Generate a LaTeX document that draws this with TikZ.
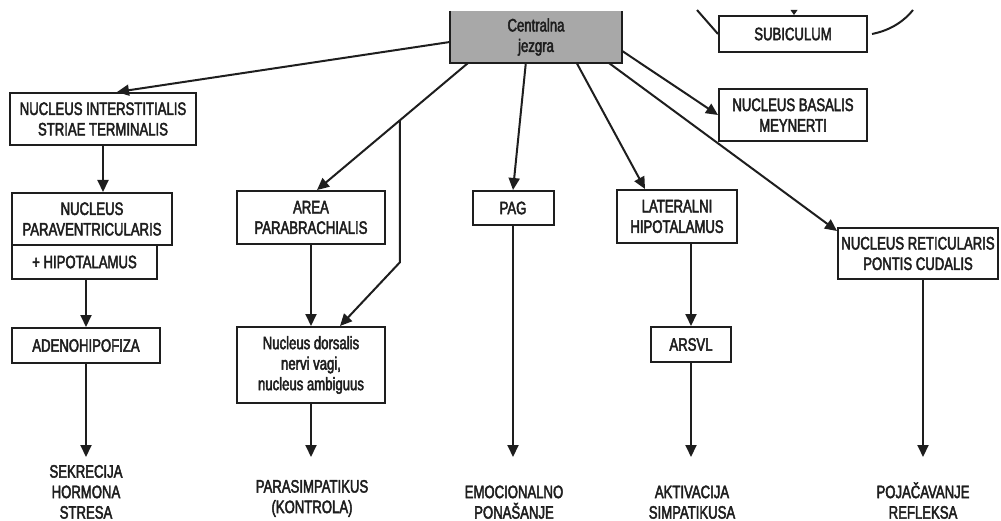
\documentclass[tikz,border=0pt]{standalone}
\usepackage{fontspec}
\setmainfont{Liberation Sans}[FakeStretch=0.73, FakeBold=2.5]
\usetikzlibrary{arrows.meta,calc}
\definecolor{ink}{RGB}{30,30,30}
\definecolor{coregray}{RGB}{168,168,168}

\begin{document}
\begin{tikzpicture}[x=1pt,y=-1pt,
  every node/.style={font=\fontsize{18}{20.5}\selectfont, align=center,
                     inner sep=0pt, text=ink},
  box/.style={draw=ink, line width=2pt, fill=white},
  link/.style={draw=ink, line width=2pt, -{Triangle[length=12pt,width=11pt]}},
  plain/.style={draw=ink, line width=2pt},
  outcome/.style={anchor=south}]
\useasboundingbox (0,0) rectangle (1001,521);

% central nucleus (top edge lies outside the frame)
\node[fill=coregray, minimum width=172, minimum height=52] (core) at (536,37) {Centralna\\jezgra};
\draw[plain] (core.north west) -- (core.south west) -- (core.south east) -- (core.north east);

% boxes
\node[box, minimum width=148, minimum height=36] (subic) at (793,34) {SUBICULUM};
\node[box, minimum width=186, minimum height=52] (nist)  at (103,119) {NUCLEUS INTERSTITIALIS\\STRIAE TERMINALIS};
\node[box, minimum width=148, minimum height=52] (nbm)   at (793,115) {NUCLEUS BASALIS\\MEYNERTI};
\node[box, minimum width=160, minimum height=52] (npv)   at (92,219) {NUCLEUS\\PARAVENTRICULARIS};
\node[box, minimum width=145, minimum height=34] (hipo)  at (84.5,262) {+ HIPOTALAMUS};
\node[box, minimum width=148, minimum height=53] (ap)    at (311,217.5) {AREA\\PARABRACHIALIS};
\node[box, minimum width=81,  minimum height=34] (pag)   at (513,208) {PAG};
\node[box, minimum width=120, minimum height=53] (lh)    at (677,216.5) {LATERALNI\\HIPOTALAMUS};
\node[box, minimum width=160, minimum height=51] (nrpc)  at (918,253.5) {NUCLEUS RETICULARIS\\PONTIS CUDALIS};
\node[box, minimum width=148, minimum height=35] (adeno) at (86,345.5) {ADENOHIPOFIZA};
\node[box, minimum width=148, minimum height=76] (nd)    at (311,365) {Nucleus dorsalis\\nervi vagi,\\nucleus ambiguus};
\node[box, minimum width=80,  minimum height=35] (arsvl) at (691,344.5) {ARSVL};

% outcomes
\node[outcome] (sek) at (86,519)  {SEKRECIJA\\HORMONA\\STRESA};
\node[outcome] (par) at (312,517) {PARASIMPATIKUS\\(KONTROLA)};
\node[outcome] (emo) at (514,519) {EMOCIONALNO\\PONAŠANJE};
\node[outcome] (akt) at (692,519) {AKTIVACIJA\\SIMPATIKUSA};
\node[outcome] (poj) at (923,519) {POJAČAVANJE\\REFLEKSA};

\coordinate (sekTip) at (86,457);
\coordinate (parTip) at (311,457);
\coordinate (emoTip) at (513,457);
\coordinate (aktTip) at (691,457);
\coordinate (pojTip) at (923,457);

% projections from the central nucleus
\draw[link] ([yshift=-5pt]core.west) -- ([xshift=14pt]nist.north);
\coordinate (apStart) at ([xshift=18pt]core.south west);
\coordinate (apEnd)   at ([xshift=6pt]ap.north);
\draw[link] (apStart) -- (apEnd);
\coordinate (split) at ($(apStart)!0.45!(apEnd)$);
\path (split) ++(0,142) coordinate (bend);
\draw[link] (split) -- (bend) -- ([xshift=29pt]nd.north);
\draw[link] ([xshift=76pt]core.south west) -- (pag.north);
\draw[link] ([xshift=127pt]core.south west) -- ([xshift=-32pt]lh.north);
\draw[link] ([yshift=-14pt]core.east) -- (nbm.west);
\draw[link] ([xshift=-13pt]core.south east) -- ([yshift=-4pt]nrpc.north west);

% chains downwards
\draw[link] (nist.south) -- (nist.south |- npv.north);
\draw[link] (adeno.north |- hipo.south) -- (adeno.north);
\draw[link] (ap.south) -- (ap.south |- nd.north);
\draw[link] (arsvl.north |- lh.south) -- (arsvl.north);
\draw[link] (adeno.south) -- (sekTip);
\draw[link] (parTip |- nd.south) -- (parTip);
\draw[link] (pag.south) -- (emoTip);
\draw[link] (arsvl.south) -- (aktTip);
\draw[link] (pojTip |- nrpc.south) -- (pojTip);

% links around the subiculum leaving the frame
\draw[plain] (697,10) -- (subic.west);
\draw[plain] ([xshift=4pt]subic.east) .. controls (892,30) and (905,20) .. (913,10);
\fill[ink] (790.5,10) -- (797.5,10) -- (794,15) -- cycle;
\end{tikzpicture}
\end{document}
